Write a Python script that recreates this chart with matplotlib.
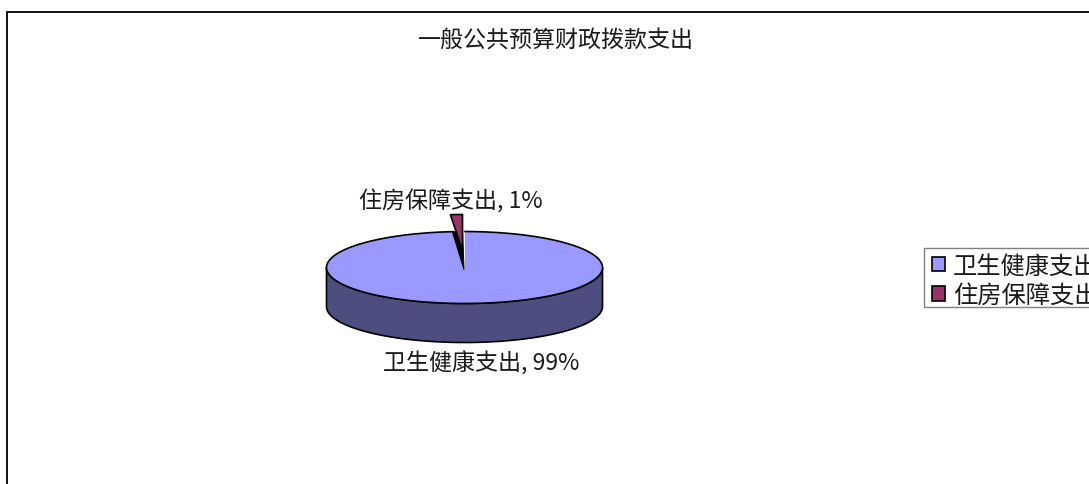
import numpy as np
import matplotlib
matplotlib.use("Agg")
import matplotlib.pyplot as plt
from matplotlib.patches import Patch, Rectangle

plt.rcParams["font.family"] = ["Noto Sans CJK SC", "DejaVu Sans"]

# 数据
title = "一般公共预算财政拨款支出"
categories = ["卫生健康支出", "住房保障支出"]
shares = [98.6, 1.4]
share_labels = ["99%", "1%"]
colors = ["#9999FF", "#993366"]
side_colors = ["#4D4D80", "#4D1A33"]

W, H = 1089, 485
fig = plt.figure(figsize=(W / 100, H / 100), dpi=100)
ax = fig.add_axes([0, 0, 1, 1])
ax.set_xlim(0, W)
ax.set_ylim(H, 0)
ax.axis("off")

# 外框（右侧和底部被裁掉）
ax.plot([7, 7, W], [H, 12.5, 12.5], color="black", lw=1.3, solid_joinstyle="miter")

# 伪 3D 饼图
cx, cy = 464.5, 268.5
rx, ry = 138, 36
depth = 39
explode = 17
shift = 2

small_angle = 360 * shares[1] / sum(shares)


def ellipse_pts(a0, a1, x0=cx, y0=cy, n=200):
    # 角度从正上方开始逆时针
    a = np.radians(np.linspace(a0, a1, n))
    return x0 - rx * np.sin(a), y0 - ry * np.cos(a)


# 侧面
xb, yb = ellipse_pts(90, 270)
ax.fill(np.r_[xb, xb[::-1]], np.r_[yb, yb[::-1] + depth], facecolor=side_colors[0],
        edgecolor="black", lw=1.2, zorder=2)

# 顶面（留出小扇形的缺口）
xt, yt = ellipse_pts(small_angle, 360)
ax.fill(np.r_[cx, xt], np.r_[cy + 2, yt], facecolor=colors[0], edgecolor="none", zorder=3)
ax.plot(xt, yt, color="black", lw=1.2, zorder=3)

# 缺口：白色 + 黑色切面
xg, yg = ellipse_pts(0, small_angle, n=20)
ax.fill(np.r_[cx + 0.5, xg], np.r_[cy + 2, yg], facecolor="white", edgecolor="none", zorder=4)
ax.fill([cx - 0.5, xg[-1], cx - 2], [cy + 2, yg[-1], yg[-1]], facecolor="black",
        edgecolor="black", lw=0.8, zorder=5)

# 小扇形
y_small = cy - explode
xs, ys = ellipse_pts(0, small_angle, x0=cx - shift, y0=y_small, n=20)
ax.fill(np.r_[cx - shift, xs], np.r_[y_small, ys], facecolor=colors[1],
        edgecolor="black", lw=1.2, joinstyle="miter", zorder=6)

# 文字
text_color = "#1A1A1A"
ax.text(556, 40.5, title, ha="center", va="center", fontsize=16.6, color=text_color)
ax.text(451, 201.5, categories[1] + ", " + share_labels[1], ha="center", va="center",
        fontsize=16.6, color=text_color)
ax.text(481, 363.5, categories[0] + ", " + share_labels[0], ha="center", va="center",
        fontsize=16.6, color=text_color)

# 图例（右边超出画布）
ax.add_patch(Rectangle((923.5, 248.5), 180, 59.5, facecolor="white", edgecolor="#808080", lw=1.0, zorder=8))
handles = [Patch(facecolor=c, edgecolor="black", lw=1.2) for c in colors]
leg = ax.legend(handles, categories, loc="upper left", bbox_to_anchor=(932 / W, 1 - 253.5 / H),
                bbox_transform=fig.transFigure, fontsize=17.5, frameon=False,
                borderaxespad=0, borderpad=0, labelspacing=0.15, handlelength=0.53,
                handleheight=0.53, handletextpad=0.34, labelcolor=text_color)
leg.set_zorder(10)

fig.savefig("out.png", dpi=100)
